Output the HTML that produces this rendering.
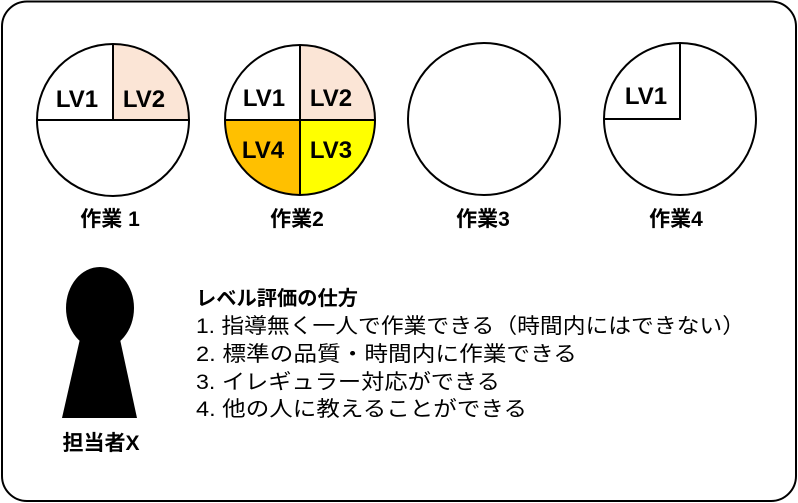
<!DOCTYPE html>
<html><head><meta charset="utf-8"><style>
html,body{margin:0;padding:0;background:#fff;}
svg{display:block;}
text{font-family:"Liberation Sans","Noto Sans CJK JP",sans-serif;fill:#000;}
</style></head><body>
<svg width="798" height="503" viewBox="0 0 798 503" xmlns="http://www.w3.org/2000/svg">
<rect x="2" y="1.5" width="794" height="499.5" rx="25" fill="#fff" stroke="#000" stroke-width="2"/>
<!-- circle 1 -->
<path d="M113 120 L113 44 A76 76 0 0 1 189 120 Z" fill="#fbe5d6"/>
<circle cx="113" cy="120" r="76" fill="none" stroke="#000" stroke-width="2"/>
<path d="M113 44 L113 120 M37 120 L189 120" stroke="#000" stroke-width="2"/>
<text x="77" y="107" font-size="24" font-weight="bold" text-anchor="middle">LV1</text>
<text x="144" y="107" font-size="24" font-weight="bold" text-anchor="middle">LV2</text>
<!-- circle 2 -->
<path d="M300 120 L300 45 A75 75 0 0 1 375 120 Z" fill="#fbe5d6"/>
<path d="M300 120 L375 120 A75 75 0 0 1 300 195 Z" fill="#ffff00"/>
<path d="M300 120 L300 195 A75 75 0 0 1 225 120 Z" fill="#ffc000"/>
<circle cx="300" cy="120" r="75" fill="none" stroke="#000" stroke-width="2"/>
<path d="M300 45 L300 195 M225 120 L375 120" stroke="#000" stroke-width="2"/>
<text x="264" y="106" font-size="24" font-weight="bold" text-anchor="middle">LV1</text>
<text x="331" y="106" font-size="24" font-weight="bold" text-anchor="middle">LV2</text>
<text x="263" y="158" font-size="24" font-weight="bold" text-anchor="middle">LV4</text>
<text x="331" y="158" font-size="24" font-weight="bold" text-anchor="middle">LV3</text>
<!-- circle 3 -->
<circle cx="484" cy="119" r="76" fill="none" stroke="#000" stroke-width="2"/>
<!-- circle 4 -->
<circle cx="680" cy="119" r="76" fill="none" stroke="#000" stroke-width="2"/>
<path d="M680 43 L680 119 L604 119" fill="none" stroke="#000" stroke-width="2"/>
<text x="646" y="104" font-size="24" font-weight="bold" text-anchor="middle">LV1</text>
<!-- labels -->
<text x="110" y="226" font-size="21" font-weight="bold" text-anchor="middle">作業 1</text>
<text x="297" y="226" font-size="21" font-weight="bold" text-anchor="middle">作業2</text>
<text x="483" y="226" font-size="21" font-weight="bold" text-anchor="middle">作業3</text>
<text x="676" y="226" font-size="21" font-weight="bold" text-anchor="middle">作業4</text>
<!-- keyhole -->
<ellipse cx="100" cy="308" rx="34" ry="41" fill="#000"/>
<polygon points="82,330 118,330 137,418 62,418" fill="#000"/>
<text x="101" y="450" font-size="21" font-weight="bold" text-anchor="middle">担当者X</text>
<!-- text -->
<text x="196" y="305" font-size="20" font-weight="bold" textLength="162" lengthAdjust="spacingAndGlyphs">レベル評価の仕方</text>
<text x="196" y="333" font-size="21" textLength="549" lengthAdjust="spacingAndGlyphs">1.  指導無く一人で作業できる（時間内にはできない）</text>
<text x="196" y="361" font-size="21" textLength="381" lengthAdjust="spacingAndGlyphs">2.  標準の品質・時間内に作業できる</text>
<text x="196" y="389" font-size="21" textLength="304" lengthAdjust="spacingAndGlyphs">3.  イレギュラー対応ができる</text>
<text x="196" y="416" font-size="21" textLength="331" lengthAdjust="spacingAndGlyphs">4.  他の人に教えることができる</text>
</svg>
</body></html>
